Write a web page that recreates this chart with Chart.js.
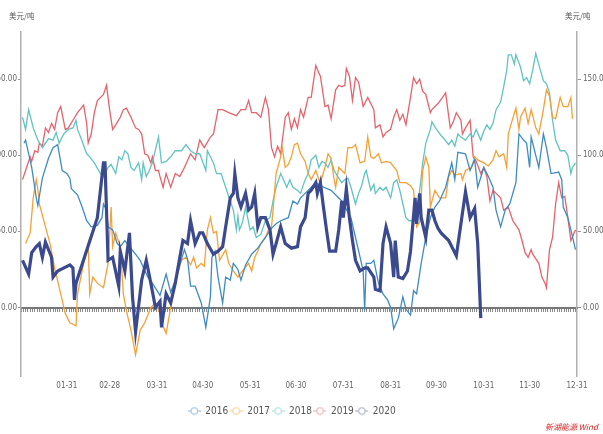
<!DOCTYPE html>
<html><head><meta charset="utf-8">
<script src="https://cdn.jsdelivr.net/npm/chart.js@4.4.0/dist/chart.umd.min.js"></script>
<style>
html,body{margin:0;padding:0;width:603px;height:434px;overflow:hidden;background:#fff;position:relative;}
#wrap{position:absolute;left:-19px;top:0;width:622px;height:434px;}
.unit{position:absolute;top:10px;font:7.5px "Noto Sans CJK SC",sans-serif;color:#555;}
#wm{position:absolute;left:545px;top:421px;font:italic 8px "Noto Sans CJK SC",sans-serif;color:#d42020;}
</style></head><body>
<div id="wrap"><canvas id="c" width="622" height="434"></canvas></div>
<div class="unit" style="left:9px">美元/吨</div>
<div class="unit" style="left:565px">美元/吨</div>
<div id="wm">新湖能源 Wind</div>
<script>
// ---- data (day of year, value in 美元/吨) ----
const seriesNames = ['2016','2017','2018','2019','2020'];
const monthEndDays = [31,59,90,120,151,181,212,243,273,304,334,365];
const xTickLabels = ['01-31','02-28','03-31','04-30','05-31','06-30','07-31','08-31','09-30','10-31','11-30','12-31'];
const yTickValues = [0,50,100,150];

const days2016 = [3,4,8,11,12,15,19,22,25,28,31,33,34,38,41,44,47,51,54,55,57,58,61,64,66,69,72,76,79,84,87,92,96,99,102,105,108,110,112,115,119,122,125,126,128,130,133,135,138,140,143,145,148,152,156,161,165,168,171,176,179,182,184,187,194,197,204,211,217,220,223,225,226,227,230,232,235,238,241,243,245,248,251,253,256,258,260,263,266,269,272,275,279,283,285,287,292,295,298,300,304,307,310,312,315,318,321,325,327,330,332,334,335,340,343,345,348,353,355,356,359,361,364];
const vals2016 = [108,110,92,72,67,85,98,105,107,90,88,85,78,74,66,57,53,54,59,68,64,53,51,42,40,44,40,35,31,20,16,8,22,10,18,28,38,32,14,14,3,-13,7,33,37,20,3,20,18,29,25,18,28,35,39,46,52,55,57,59,70,68,72,75,82,80,77,70,59,46,33,24,-2,29,29,31,16,9,5,0,-14,-7,7,-1,-5,11,9,29,46,59,66,70,79,95,84,102,101,90,97,79,92,86,79,64,53,64,68,82,114,110,108,92,112,92,114,105,88,89,84,66,59,51,38];

const days2017 = [4,7,9,11,12,13,17,20,23,27,30,33,37,38,42,45,46,48,51,55,58,60,61,63,66,68,70,73,76,79,82,86,89,92,93,96,99,102,106,109,112,114,116,119,121,123,125,127,129,131,135,137,140,143,146,150,152,154,156,158,161,163,165,166,168,171,172,174,176,178,180,182,184,187,189,191,194,196,197,200,202,204,206,207,209,211,213,215,218,220,223,226,228,230,232,235,237,240,243,247,249,253,256,258,260,262,264,266,268,269,272,275,279,281,283,285,289,290,292,296,298,300,304,307,310,312,314,317,319,320,322,325,327,328,331,333,335,338,340,343,345,347,349,351,354,356,359,361,362];
const vals2017 = [42,49,72,84,78,68,53,42,26,9,-4,-10,-12,9,29,42,9,20,16,13,29,66,40,49,40,9,-2,-15,-31,-15,-10,0,3,-4,-10,-17,0,16,31,33,28,33,26,29,27,51,59,49,50,31,38,29,24,20,24,29,24,33,37,42,46,51,53,64,88,99,105,92,94,99,107,108,101,96,88,84,90,84,82,92,101,98,84,79,92,90,88,105,105,107,95,96,112,99,98,101,95,96,95,90,82,82,80,77,53,56,90,99,92,66,77,72,72,86,90,87,88,84,90,92,99,97,95,93,97,103,99,101,92,114,121,131,117,125,131,121,130,118,114,130,143,139,125,124,138,132,132,138,124];

const days2018 = [2,4,6,9,12,15,19,22,24,26,29,32,35,37,38,40,44,46,49,53,55,58,60,63,65,67,69,71,73,75,78,80,81,83,85,87,91,93,96,99,102,106,109,112,115,118,122,123,127,129,132,135,138,140,142,143,144,146,148,151,153,155,158,161,164,166,168,171,175,177,179,182,184,187,189,191,194,196,198,200,202,204,206,209,211,213,215,217,220,222,224,226,227,230,232,233,236,238,240,243,245,247,249,251,253,255,258,260,262,264,266,269,270,273,276,277,281,283,285,287,289,292,295,297,299,302,304,306,308,310,312,315,317,319,320,322,324,325,328,330,332,334,336,338,341,343,345,347,349,351,354,357,359,361,362,364];
const vals2018 = [125,117,130,118,110,105,111,110,115,108,114,117,118,123,117,112,101,99,95,88,86,92,94,88,99,97,103,101,92,90,95,84,95,86,90,95,112,95,96,99,103,103,107,103,101,101,90,103,95,88,88,79,70,64,51,60,51,56,66,51,53,46,48,57,59,70,79,88,79,84,79,77,75,84,88,97,100,92,96,95,92,97,90,85,82,84,85,79,68,75,80,88,90,77,81,75,79,77,79,72,82,84,77,68,59,57,57,63,77,95,108,117,122,117,113,112,107,110,106,114,112,110,114,112,117,110,116,120,117,121,130,135,145,156,166,166,160,166,158,149,151,147,156,167,156,149,147,141,123,110,103,103,100,88,92,95];

const days2019 = [2,4,7,8,10,12,13,15,17,19,21,23,25,27,30,32,35,38,42,44,45,47,49,51,55,57,59,61,63,66,68,70,73,76,78,80,82,84,86,87,89,91,92,94,96,99,102,105,108,112,115,118,121,125,127,130,133,137,142,145,148,150,152,155,158,161,163,165,167,169,171,174,176,178,180,182,184,186,189,191,194,196,197,200,202,204,207,209,211,213,214,216,218,220,222,225,226,228,232,233,236,238,240,243,245,247,249,251,253,256,258,260,262,264,266,269,270,273,274,277,279,282,284,286,289,290,292,295,297,299,302,304,306,308,310,312,315,317,320,323,327,329,331,333,335,336,340,342,344,345,347,349,351,353,355,357,359,361,364];
const vals2019 = [84,90,99,96,103,102,108,106,118,115,121,117,128,132,117,118,123,128,133,121,108,114,128,136,140,146,130,117,120,125,130,131,125,118,117,114,101,100,95,99,90,90,86,79,88,79,88,86,92,101,97,110,105,112,114,130,130,128,126,130,130,136,128,128,125,138,130,105,99,106,101,125,128,117,124,118,130,125,138,138,159,154,152,132,133,124,143,146,145,146,157,152,136,151,148,132,134,138,130,118,120,112,115,117,125,130,123,127,120,138,151,147,150,142,140,128,130,133,134,138,141,118,122,128,123,114,118,123,99,96,88,92,86,70,77,75,72,64,66,57,51,44,36,33,38,35,29,20,16,13,38,46,68,82,72,73,59,44,51];

const days2020 = [2,6,8,11,13,15,17,21,22,25,33,35,36,37,51,55,56,58,61,65,66,69,72,74,76,80,83,86,89,92,93,96,99,102,105,107,110,112,115,118,120,123,127,130,133,135,138,140,141,143,145,148,150,152,154,156,158,161,164,166,168,171,174,178,182,184,187,189,191,194,195,197,199,201,203,207,209,211,212,214,216,218,220,223,226,228,232,233,236,238,240,243,245,246,248,251,254,256,259,260,262,263,266,268,270,272,274,276,281,286,292,295,298,300,302];
const vals2020 = [31,22,36,40,42,33,43,33,20,24,28,26,5,16,59,95,95,31,33,14,37,24,49,7,-16,18,31,16,0,4,-13,9,3,16,33,44,42,57,42,49,49,42,35,37,40,53,72,75,88,72,66,75,64,66,75,53,59,59,51,35,42,53,42,39,40,53,59,75,77,82,75,82,66,51,37,37,51,70,59,78,59,44,31,24,26,26,20,12,11,42,53,42,20,44,20,19,24,37,72,55,75,59,46,64,64,57,52,49,44,34,76,59,65,42,-7];

// ---- styling ----
const lineColors = ['#3f8cc2','#f4a138','#62c3c1','#e4636d','#3b4a8e'];
const legendColors = ['#8db6d6','#f2c88c','#a0d8d6','#eea2aa','#9ca1c2'];
const lineWidths = [1.3,1.3,1.3,1.3,3.2];
const NARROW = '"Liberation Sans Narrow","DejaVu Sans Condensed","Liberation Sans",Arial,sans-serif';

const allDays = [days2016,days2017,days2018,days2019,days2020];
const allVals = [vals2016,vals2017,vals2018,vals2019,vals2020];

function marker(color){
  const c = document.createElement('canvas');
  c.width = 13; c.height = 9;
  const g = c.getContext('2d');
  g.strokeStyle = color; g.lineWidth = 1;
  g.beginPath(); g.moveTo(0,4.5); g.lineTo(13,4.5); g.stroke();
  g.beginPath(); g.arc(6.5,4.5,3.4,0,Math.PI*2); g.fillStyle='#fff'; g.fill(); g.stroke();
  return c;
}
const markers = legendColors.map(marker);

const datasets = seriesNames.map((name,i)=>({
  label: name,
  data: allDays[i].map((d,k)=>({x:d, y:allVals[i][k]})),
  borderColor: lineColors[i],
  backgroundColor: lineColors[i],
  borderWidth: lineWidths[i],
  pointRadius: 0,
  tension: 0,
  fill: false,
  xAxisID: 'x',
  yAxisID: 'y',
  order: i === 4 ? 0 : 1
}));

const yCommon = (pos, width, tl, pad) => ({
  type:'linear', position: pos, min:-45, max:181,
  afterBuildTicks: s => { s.ticks = yTickValues.map(v=>({value:v})); },
  afterFit: s => { s.width = width; },
  grid:{drawOnChartArea:false, drawTicks:true, tickLength:tl, color:'#999', lineWidth:1},
  border:{display:true, color:'#b0b0b0', width:1.5},
  ticks:{callback:v=>Number(v).toFixed(2), color:'#666', padding:pad, font:{size:8, family:NARROW}}
});

new Chart(document.getElementById('c'), {
  type:'line',
  data:{datasets},
  options:{
    responsive:false, animation:false, devicePixelRatio:1,
    layout:{padding:{top:32, bottom:8, left:0, right:0}},
    plugins:{
      tooltip:{enabled:false},
      legend:{
        position:'bottom',
        labels:{
          usePointStyle:true, pointStyleWidth:12, padding:2, color:'#555',
          font:{size:10, family:NARROW},
          generateLabels: chart => chart.data.datasets.map((ds,i)=>({
            text: ds.label, fillStyle: legendColors[i], strokeStyle: legendColors[i],
            lineWidth: 0, pointStyle: markers[i], hidden:false, datasetIndex:i, fontColor:'#555'
          }))
        }
      }
    },
    scales:{
      x:{
        type:'linear', position:'bottom', min:1, max:365,
        afterBuildTicks: s => { s.ticks = monthEndDays.map(v=>({value:v})); },
        afterFit: s => { s.height = 28; },
        grid:{display:false, drawTicks:false},
        border:{display:false},
        ticks:{autoSkip:false, maxRotation:0, padding:5, color:'#666', font:{size:8, family:NARROW},
          callback:(v,i)=>xTickLabels[i]}
      },
      x0:{
        axis:'x', type:'linear', position:{y:0}, min:1, max:365,
        afterBuildTicks: s => { const t=[]; for(let d=1; d<=365; d+=1.5) t.push({value:d}); s.ticks=t; },
        grid:{drawOnChartArea:false, drawTicks:true, tickLength:3, color:'#8a8a8a', lineWidth:1},
        border:{display:true, color:'#777', width:2},
        ticks:{display:false}
      },
      y: yCommon('left', 40, 3, 1),
      y1: yCommon('right', 26, 4, 2)
    }
  }
});
</script>
</body></html>
